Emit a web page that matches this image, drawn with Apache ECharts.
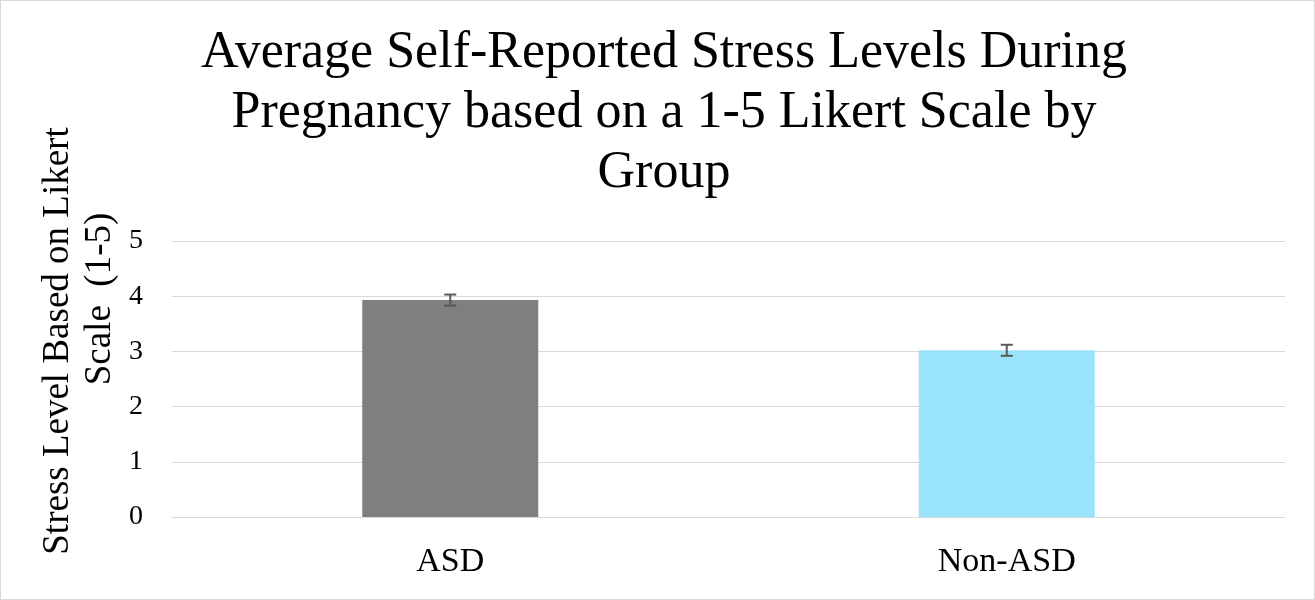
<!DOCTYPE html>
<html>
<head>
<meta charset="utf-8">
<script src="https://cdn.jsdelivr.net/npm/echarts@6/dist/echarts.min.js"></script>
<style>
  html, body { margin: 0; padding: 0; background: #fff; }
  #main { width: 1315px; height: 600px; box-sizing: border-box; border: 1px solid #d9d9d9; }
</style>
</head>
<body>
<div id="main"></div>
<script>
// data
var groups = ['ASD', 'Non-ASD']
var stressMeans = [3.93, 3.02]
var stressErrors = [0.1, 0.1]
var barColors = ['#7f7f7f', '#99e3fb']
var yTicks = [0, 1, 2, 3, 4, 5]

var fontFamily = '"Liberation Serif", "Times New Roman", serif'

var chart = echarts.init(document.getElementById('main'))

var option = {
  animation: false,
  textStyle: { fontFamily: fontFamily },
  title: {
    text: 'Average Self-Reported Stress Levels During\nPregnancy based on a 1-5 Likert Scale by\nGroup',
    left: 658,
    top: 17,
    textAlign: 'center',
    textStyle: {
      fontFamily: fontFamily,
      fontSize: 52,
      fontWeight: 'normal',
      color: '#000',
      lineHeight: 60
    }
  },
  grid: { left: 171, right: 29, top: 240, bottom: 82 },
  xAxis: {
    type: 'category',
    data: groups,
    axisLine: { lineStyle: { color: '#d9d9d9', width: 1 } },
    axisTick: { show: false },
    axisLabel: { fontFamily: fontFamily, fontSize: 34, color: '#000', margin: 28 }
  },
  yAxis: {
    type: 'value',
    min: yTicks[0],
    max: yTicks[yTicks.length - 1],
    interval: 1,
    axisLine: { show: false },
    axisTick: { show: false },
    splitLine: { lineStyle: { color: '#d9d9d9', width: 1 } },
    axisLabel: { fontFamily: fontFamily, fontSize: 28, color: '#000', margin: 29 }
  },
  graphic: [
    {
      type: 'text',
      x: 57, y: 340,
      rotation: Math.PI / 2,
      style: {
        text: 'Stress Level Based on Likert',
        font: '37px ' + fontFamily,
        fill: '#000',
        align: 'center',
        verticalAlign: 'middle'
      }
    },
    {
      type: 'text',
      x: 99, y: 298,
      rotation: Math.PI / 2,
      style: {
        text: 'Scale  (1-5)',
        font: '37px ' + fontFamily,
        fill: '#000',
        align: 'center',
        verticalAlign: 'middle'
      }
    }
  ],
  series: [
    {
      type: 'bar',
      barWidth: 176,
      data: stressMeans.map(function (v, i) {
        return { value: v, itemStyle: { color: barColors[i] } }
      })
    },
    {
      type: 'custom',
      data: stressMeans.map(function (v, i) {
        return [i, v - stressErrors[i], v + stressErrors[i]]
      }),
      renderItem: function (params, api) {
        var lo = api.coord([api.value(0), api.value(1)])
        var hi = api.coord([api.value(0), api.value(2)])
        var half = 6
        var style = { stroke: '#595959', lineWidth: 2 }
        return {
          type: 'group',
          children: [
            { type: 'line', shape: { x1: hi[0], y1: hi[1], x2: lo[0], y2: lo[1] }, style: style },
            { type: 'line', shape: { x1: hi[0] - half, y1: hi[1], x2: hi[0] + half, y2: hi[1] }, style: style },
            { type: 'line', shape: { x1: lo[0] - half, y1: lo[1], x2: lo[0] + half, y2: lo[1] }, style: style }
          ]
        }
      },
      z: 10
    }
  ]
}

chart.setOption(option)
</script>
</body>
</html>
